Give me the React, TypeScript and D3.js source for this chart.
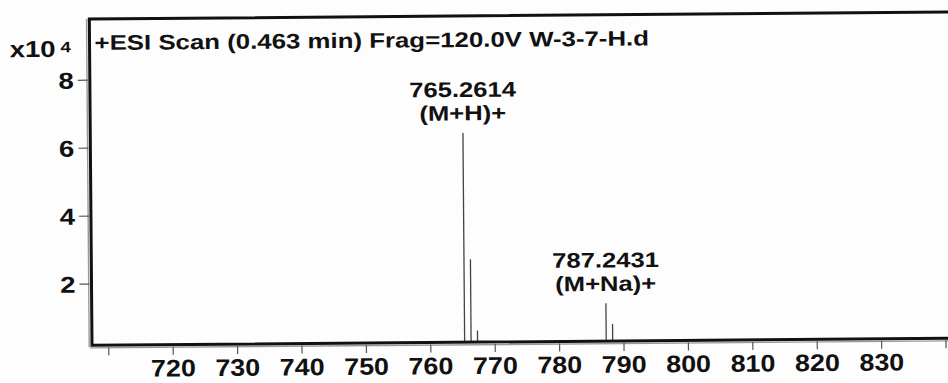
import React from "react";
import * as d3 from "d3";

const peakMz = [765.2614, 766.264, 767.267, 787.2431, 788.246];
const peakIntensity = [6.36, 2.64, 0.54, 1.31, 0.7]; // x10^4
const labelMz = [765.2614, 787.2431];
const labelText = ["765.2614", "787.2431"];
const labelIon = ["(M+H)+", "(M+Na)+"];
const xTickValues = [710, 720, 730, 740, 750, 760, 770, 780, 790, 800, 810, 820, 830, 840];
const xTickLabels = ["", "720", "730", "740", "750", "760", "770", "780", "790", "800", "810", "820", "830", ""];
const yTickValues = [2, 4, 6, 8];
const yTickLabels = ["2", "4", "6", "8"];
const title = "+ESI Scan (0.463 min) Frag=120.0V W-3-7-H.d";

const W = 948;
const H = 383;
const left = 92;
const bottom = 345.3;
const top = 19;
const FONT = "'Liberation Sans', Arial, Helvetica, sans-serif";

export default function App() {
  const x = d3.scaleLinear().domain([707.4, 843]).range([left, 107.5 + 133 * 6.45]);
  const y = d3.scaleLinear().domain([0.2, 9.8]).range([bottom, top]);
  const right = x(843);
  const T = (tx: number, ty: number, sx: number) => `translate(${tx},${ty}) scale(${sx},1)`;

  return (
    <svg
      width={W}
      height={H}
      style={{ position: "absolute", left: 0, top: 0, background: "#fdfdfd" }}
      fontFamily={FONT}
    >
      <rect x={0} y={0} width={W} height={H} fill="#fdfdfd" />
      <g transform={`rotate(-0.47, ${left}, ${bottom})`}>
        {/* peaks */}
        {peakMz.map((m, i) => (
          <line
            key={"p" + i}
            x1={x(m)}
            x2={x(m)}
            y1={y(0.2)}
            y2={y(peakIntensity[i])}
            stroke="#444"
            strokeWidth={1.3}
          />
        ))}
        {/* frame shadow */}
        <line x1={left - 2.8} x2={left - 2.8} y1={top} y2={bottom + 2} stroke="#999" strokeWidth={1.4} />
        <line x1={left - 2} x2={right} y1={bottom + 2.6} y2={bottom + 2.6} stroke="#999" strokeWidth={1.4} />
        {/* frame */}
        <rect x={left} y={top} width={right - left} height={bottom - top} fill="none" stroke="#111" strokeWidth={3} />
        {/* y ticks */}
        {yTickValues.map((v, i) => (
          <g key={"yt" + i}>
            <line x1={left - 12} x2={left - 2} y1={y(v)} y2={y(v)} stroke="#555" strokeWidth={1.2} />
            <text
              transform={T(76, y(v) + 8.3, 1.2)}
              textAnchor="end"
              fontSize={23}
              fontWeight="bold"
              fill="#111"
            >
              {yTickLabels[i]}
            </text>
          </g>
        ))}
        {/* x ticks */}
        {xTickValues.map((v, i) => (
          <g key={"xt" + i}>
            <line x1={x(v)} x2={x(v)} y1={bottom + 2} y2={bottom + 10} stroke="#555" strokeWidth={1.2} />
            <text
              transform={T(x(v), 377, 1.12)}
              textAnchor="middle"
              fontSize={24}
              fontWeight="bold"
              fill="#111"
            >
              {xTickLabels[i]}
            </text>
          </g>
        ))}
        {/* exponent */}
        <text transform={T(12, 56.5, 1.2)} fontSize={23} fontWeight="bold" fill="#111">
          x10
        </text>
        <text transform={T(63, 52, 1.25)} fontSize={15} fontWeight="bold" fill="#111">
          4
        </text>
        {/* title */}
        <text transform={T(97, 50, 1.23)} fontSize={21} fontWeight="bold" fill="#111">
          {title}
        </text>
        {/* peak labels */}
        {labelMz.map((m, i) => {
          const idx = peakMz.indexOf(m);
          const py = y(peakIntensity[idx]);
          return (
            <g key={"l" + i}>
              <text transform={T(x(m), py - 36, 1.22)} textAnchor="middle" fontSize={21} fontWeight="bold" fill="#111">
                {labelText[i]}
              </text>
              <text transform={T(x(m), py - 12.5, 1.22)} textAnchor="middle" fontSize={21} fontWeight="bold" fill="#111">
                {labelIon[i]}
              </text>
            </g>
          );
        })}
      </g>
    </svg>
  );
}
